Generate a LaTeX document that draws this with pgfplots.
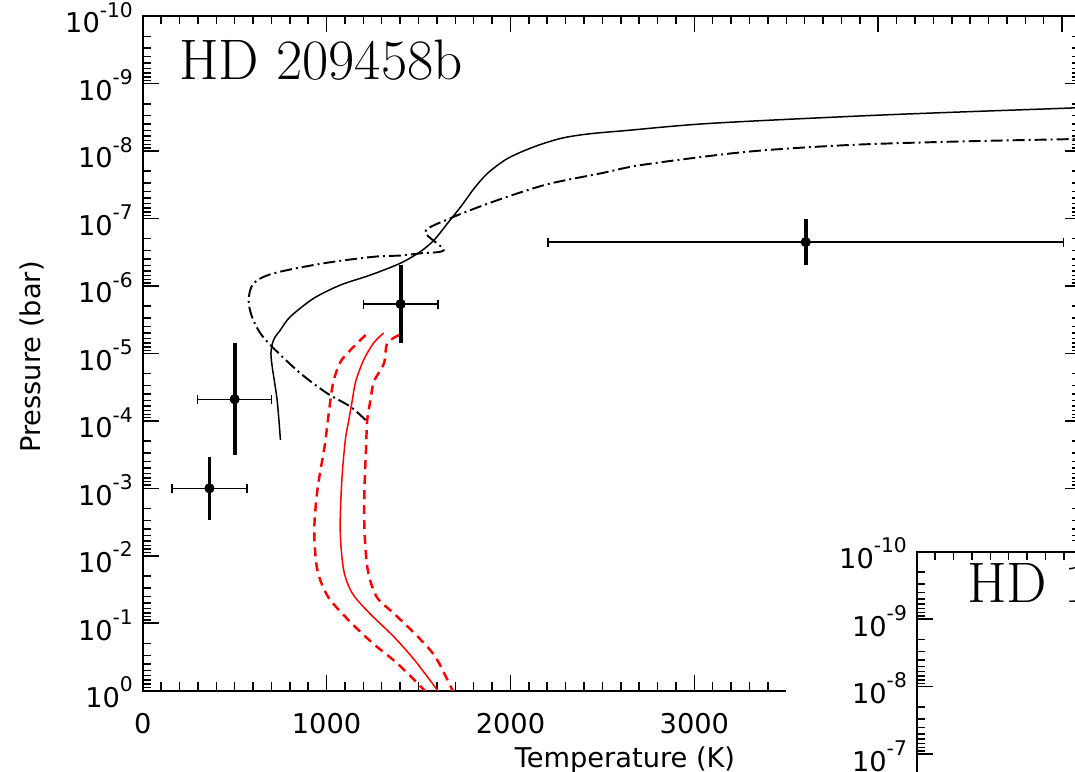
\documentclass[border=0pt]{standalone}
\usepackage{pgfplots}
\pgfplotsset{compat=1.18}
\usepackage{pgfplotstable}
\usepackage{fontspec}
\setsansfont{DejaVu Sans}

\newcommand{\tenexp}[1]{10\raisebox{9pt}{\fontsize{11.5}{13}\selectfont #1}}
\newcommand{\labfont}{\sffamily\fontsize{15.5}{18}\selectfont}
\newcommand{\minorlist}{2e-10,3e-10,4e-10,5e-10,6e-10,7e-10,8e-10,9e-10,
      2e-9,3e-9,4e-9,5e-9,6e-9,7e-9,8e-9,9e-9,
      2e-8,3e-8,4e-8,5e-8,6e-8,7e-8,8e-8,9e-8,
      2e-7,3e-7,4e-7,5e-7,6e-7,7e-7,8e-7,9e-7,
      2e-6,3e-6,4e-6,5e-6,6e-6,7e-6,8e-6,9e-6,
      2e-5,3e-5,4e-5,5e-5,6e-5,7e-5,8e-5,9e-5,
      2e-4,3e-4,4e-4,5e-4,6e-4,7e-4,8e-4,9e-4,
      2e-3,3e-3,4e-3,5e-3,6e-3,7e-3,8e-3,9e-3,
      2e-2,3e-2,4e-2,5e-2,6e-2,7e-2,8e-2,9e-2,
      0.2,0.3,0.4,0.5,0.6,0.7,0.8,0.9}

% retrieved points: T, p, x error, p error (plus = deeper, minus = higher)
\pgfplotstableread{
T     p        dT    pp       pm
363   1.0e-3   203   1.95e-3  6.61e-4
500   4.79e-5  201   2.76e-4  4.08e-5
1403  1.86e-6  202   5.06e-6  1.37e-6
3606  2.24e-7  1402  2.66e-7  1.22e-7
}\obs

\begin{document}
\begin{tikzpicture}
\useasboundingbox (-2.854cm,-1.626cm) rectangle (18.646cm,13.814cm);

\begin{axis}[at={(0,0)}, anchor=south west,
    scale only axis, width=18.756cm, height=13.494cm,
    xmin=0, xmax=5100, ymode=log, ymin=1e-10, ymax=1, y dir=reverse,
    axis line style={line width=1.1pt},
    tick align=inside, major tick length=0.32cm, minor tick length=0.17cm,
    tick style={black, line width=0.85pt},
    xtick={0,1000,2000,3000,4000,5000}, minor x tick num=9,
    ytick={1e-10,1e-9,1e-8,1e-7,1e-6,1e-5,1e-4,1e-3,1e-2,1e-1,1},
    minor ytick/.expanded={\minorlist},
    xticklabel={\pgfmathparse{int(round(\tick))}\pgfmathresult},
    yticklabel={\pgfmathtruncatemacro{\myexp}{round(\tick/ln(10))}\tenexp{\ifnum\myexp<0 -\number-\myexp\else\myexp\fi}},
    tick label style={font=\labfont, inner sep=0pt},
    x tick label style={anchor=base, yshift=-0.852cm},
    y tick label style={anchor=base east, xshift=-0.19cm, yshift=-0.34cm}]
% red profile and its bounds
\addplot[red, line width=0.85pt, smooth] coordinates {
  (1310,4.99e-6) (1256,7.02e-6) (1201,1.26e-5) (1158,2.63e-5) (1140,4.91e-5)
  (1121,9.73e-5) (1102,1.92e-4) (1083,7.53e-4) (1074,4.15e-3) (1093,1.63e-2)
  (1140,3.60e-2) (1234,7.13e-2) (1365,0.158) (1478,0.351) (1605,1.0) (1615,1.12)};
\addplot[red, line width=1.4pt, dash pattern=on 0.18cm off 0.12cm, smooth] coordinates {
  (1212,5.35e-6) (1130,8.91e-6) (1076,1.33e-5) (1039,2.48e-5) (1021,4.91e-5)
  (1003,1.22e-4) (989,2.42e-4) (950,1.06e-3) (933,4.33e-3) (950,1.63e-2)
  (1008,4.05e-2) (1119,8.97e-2) (1252,0.199) (1384,0.393) (1534,1.0) (1544,1.12)};
\addplot[red, line width=1.4pt, dash pattern=on 0.18cm off 0.12cm, smooth] coordinates {
  (1394,5.35e-6) (1330,7.10e-6) (1312,1.41e-5) (1257,2.63e-5) (1239,4.91e-5)
  (1221,9.73e-5) (1215,2.42e-4) (1206,1.06e-3) (1206,4.15e-3) (1224,1.63e-2)
  (1272,4.05e-2) (1365,7.13e-2) (1478,0.141) (1591,0.313) (1686,1.0) (1696,1.12)};
% model 1
\addplot[black, line width=0.85pt, smooth] coordinates {
  (749,1.92e-4) (731,4.91e-5) (698,1.12e-5) (712,6.34e-6) (749,4.51e-6)
  (803,2.86e-6) (930,1.53e-6) (1076,9.70e-7) (1239,6.90e-7) (1401,4.62e-7)
  (1510,3.11e-7) (1585,2.09e-7) (1658,1.18e-7) (1730,6.70e-8) (1803,3.58e-8)
  (1876,2.14e-8) (1985,1.29e-8) (2130,8.65e-9) (2276,6.50e-9) (2421,5.61e-9)
  (2630,4.98e-9) (3097,3.89e-9) (4026,2.93e-9) (5013,2.33e-9) (5111,2.28e-9)};
% model 2
\addplot[black, line width=1.1pt, smooth, dash pattern=on 0.24cm off 0.08cm on 0.04cm off 0.08cm] coordinates {
  (1212,9.73e-5) (1130,6.18e-5) (1003,3.91e-5) (858,1.98e-5) (712,8.41e-6)
  (640,5.05e-6) (594,2.86e-6) (576,1.62e-6) (603,9.16e-7) (712,6.52e-7)
  (985,4.62e-7) (1257,3.70e-7) (1401,3.55e-7) (1510,3.29e-7) (1637,2.94e-7)
  (1537,1.57e-7) (1673,9.95e-8) (1857,6.32e-8) (2039,4.25e-8) (2221,3.02e-8)
  (2494,2.14e-8) (2723,1.60e-8) (3284,1.03e-8) (3840,8.17e-9) (4400,7.29e-9)
  (5013,6.71e-9) (5111,6.65e-9)};
% retrievals
\addplot[black, only marks, mark=*, mark size=2.6pt,
  error bars/.cd, x dir=both, x explicit,
  error bar style={line width=0.85pt},
  error mark options={black, rotate=90, line width=0.85pt, mark size=0.09cm}]
  table[x=T, y=p, x error=dT] {\obs};
\addplot[black, only marks, mark=*, mark size=2.6pt,
  error bars/.cd, y dir=both, y explicit, error mark=none,
  error bar style={line width=2.2pt}]
  table[x=T, y=p, y error plus=pp, y error minus=pm] {\obs};
\end{axis}

\node[anchor=base west, inner sep=0pt, font=\fontsize{32.5}{38}\selectfont] at (0.72cm,12.214cm) {HD 209458b};
\node[rotate=90, anchor=base, inner sep=0pt, font=\labfont] at (-2.034cm,6.674cm) {Pressure (bar)};
\node[anchor=base, inner sep=0pt, font=\labfont] at (9.646cm,-1.526cm) {Temperature (K)};

% second panel lying over the lower right corner
\fill[white] (12.866cm,2.994cm) rectangle (20cm,-3cm);
\begin{axis}[at={(15.48cm,-10.714cm)}, anchor=south west,
    scale only axis, width=18.756cm, height=13.494cm,
    xmin=0, xmax=5100, ymode=log, ymin=1e-10, ymax=1, y dir=reverse,
    axis line style={line width=1.1pt},
    tick align=inside, major tick length=0.32cm, minor tick length=0.17cm,
    tick style={black, line width=0.85pt},
    xtick={0,1000,2000,3000,4000,5000}, minor x tick num=9,
    ytick={1e-10,1e-9,1e-8,1e-7,1e-6,1e-5,1e-4,1e-3,1e-2,1e-1,1},
    minor ytick/.expanded={\minorlist},
    xticklabel={\pgfmathparse{int(round(\tick))}\pgfmathresult},
    yticklabel={\pgfmathtruncatemacro{\myexp}{round(\tick/ln(10))}\tenexp{\ifnum\myexp<0 -\number-\myexp\else\myexp\fi}},
    tick label style={font=\labfont, inner sep=0pt},
    x tick label style={anchor=base, yshift=-0.852cm},
    y tick label style={anchor=base east, xshift=-0.19cm, yshift=-0.34cm}]
\addplot[draw=none] coordinates {(2500,1e-5)};
\end{axis}
\node[anchor=base west, inner sep=0pt, font=\fontsize{32.5}{38}\selectfont] at (16.48cm,1.774cm) {HD 189733b};
\end{tikzpicture}
\end{document}
